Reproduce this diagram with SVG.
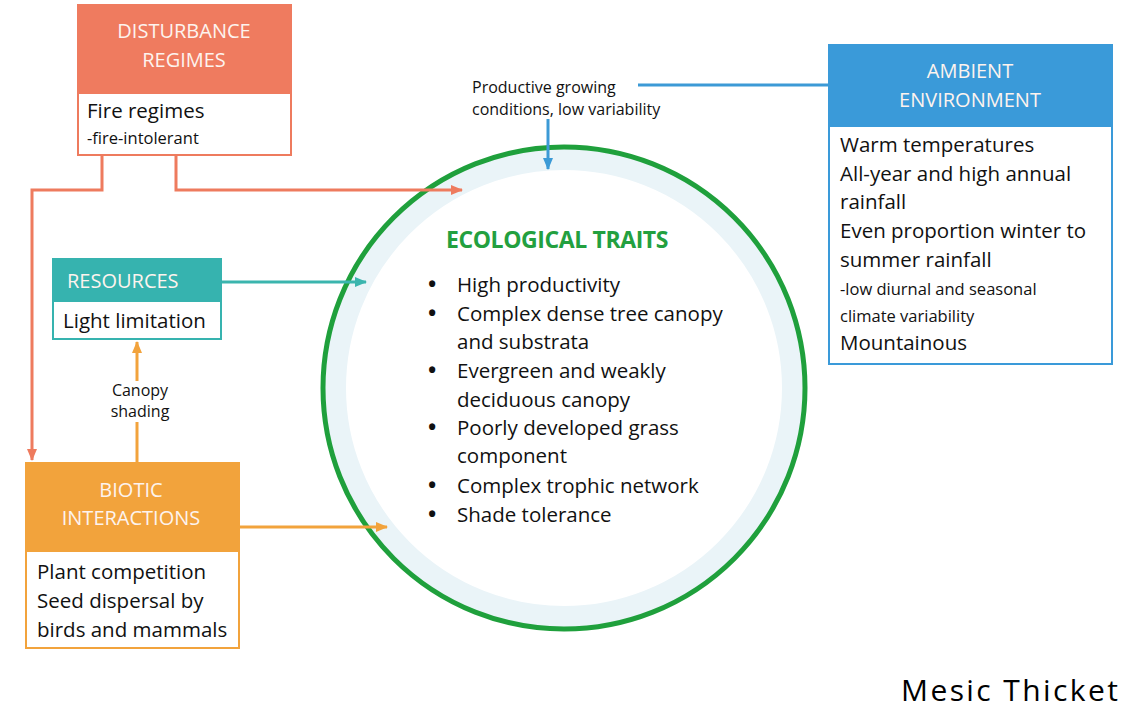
<svg xmlns="http://www.w3.org/2000/svg" width="1141" height="720" viewBox="0 0 1141 720">
<defs>
<style>
text{font-family:"Open Sans","Liberation Sans",sans-serif;fill:#111}
.hd{fill:#fdf3ee;font-size:20px;text-anchor:middle}
.bd{font-size:20.5px}
.sm{font-size:16.5px}
.lb{font-size:16px}
.li{font-size:20.5px}
.bu{font-size:22px;font-weight:bold}
.conn{fill:none;stroke-width:3}
</style>
<marker id="aR" markerWidth="12" markerHeight="10" refX="11" refY="5" orient="auto" markerUnits="userSpaceOnUse"><path d="M0,0 L12,5 L0,10 Z" fill="#ee7b5e"/></marker>
<marker id="aB" markerWidth="12" markerHeight="10" refX="11" refY="5" orient="auto" markerUnits="userSpaceOnUse"><path d="M0,0 L12,5 L0,10 Z" fill="#3c9ad6"/></marker>
<marker id="aT" markerWidth="12" markerHeight="10" refX="11" refY="5" orient="auto" markerUnits="userSpaceOnUse"><path d="M0,0 L12,5 L0,10 Z" fill="#3bb5ae"/></marker>
<marker id="aO" markerWidth="12" markerHeight="10" refX="11" refY="5" orient="auto" markerUnits="userSpaceOnUse"><path d="M0,0 L12,5 L0,10 Z" fill="#f2a33c"/></marker>
</defs>
<rect width="1141" height="720" fill="#fff"/>

<g id="ecological-traits">
<circle cx="564" cy="388" r="229" fill="none" stroke="#eaf4f8" stroke-width="22"/>
<circle cx="564" cy="388" r="241" fill="none" stroke="#1fa03c" stroke-width="5"/>
<text x="557" y="248" text-anchor="middle" style="font-size:23px;font-weight:bold;fill:#23a03f;letter-spacing:-0.4px">ECOLOGICAL TRAITS</text>
<text x="428" y="292" class="bu">•</text><text x="457" y="292" class="li">High productivity</text>
<text x="428" y="321" class="bu">•</text><text x="457" y="321" class="li">Complex dense tree canopy</text>
<text x="457" y="349" class="li">and substrata</text>
<text x="428" y="378" class="bu">•</text><text x="457" y="378" class="li">Evergreen and weakly</text>
<text x="457" y="407" class="li">deciduous canopy</text>
<text x="428" y="435" class="bu">•</text><text x="457" y="435" class="li">Poorly developed grass</text>
<text x="457" y="463" class="li">component</text>
<text x="428" y="493" class="bu">•</text><text x="457" y="493" class="li">Complex trophic network</text>
<text x="428" y="522" class="bu">•</text><text x="457" y="522" class="li">Shade tolerance</text>
</g>

<g id="connectors">
<path class="conn" stroke="#ee7b5e" d="M102,156 V190 H32 V460" marker-end="url(#aR)"/>
<path class="conn" stroke="#ee7b5e" d="M176,156 V190 H462" marker-end="url(#aR)"/>
<path class="conn" stroke="#3c9ad6" d="M828,85 H638"/>
<path class="conn" stroke="#3c9ad6" d="M548,119 V169" marker-end="url(#aB)"/>
<path class="conn" stroke="#3bb5ae" d="M222,282 H366" marker-end="url(#aT)"/>
<path class="conn" stroke="#f2a33c" d="M137,462 V422"/>
<path class="conn" stroke="#f2a33c" d="M137,381 V342" marker-end="url(#aO)"/>
<path class="conn" stroke="#f2a33c" d="M240,527 H387" marker-end="url(#aO)"/>
<text x="472" y="93" class="lb">Productive growing</text>
<text x="472" y="115" class="lb">conditions, low variability</text>
<text x="140" y="396" class="lb" text-anchor="middle">Canopy</text>
<text x="140" y="417" class="lb" text-anchor="middle">shading</text>
</g>

<g id="disturbance-regimes">
<rect x="78" y="5" width="213" height="150" fill="#fff" stroke="#ee7b5e" stroke-width="2"/>
<rect x="77" y="4" width="215" height="90" fill="#ef7b5f"/>
<text x="184" y="38" class="hd">DISTURBANCE</text>
<text x="184" y="67" class="hd">REGIMES</text>
<text x="87" y="118" class="bd">Fire regimes</text>
<text x="87" y="144" class="sm">-fire-intolerant</text>
</g>

<g id="ambient-environment">
<rect x="829" y="45" width="283" height="319" fill="#fff" stroke="#3a9ad9" stroke-width="2"/>
<rect x="828" y="44" width="285" height="83" fill="#3a9ad9"/>
<text x="970" y="78" class="hd">AMBIENT</text>
<text x="970" y="107" class="hd">ENVIRONMENT</text>
<text x="840" y="152" class="bd">Warm temperatures</text>
<text x="840" y="181" class="bd">All-year and high annual</text>
<text x="840" y="209" class="bd">rainfall</text>
<text x="840" y="238" class="bd">Even proportion winter to</text>
<text x="840" y="267" class="bd">summer rainfall</text>
<text x="840" y="295" class="sm">-low diurnal and seasonal</text>
<text x="840" y="322" class="sm">climate variability</text>
<text x="840" y="350" class="bd">Mountainous</text>
</g>

<g id="resources">
<rect x="53" y="259" width="168" height="80" fill="#fff" stroke="#36b3af" stroke-width="2"/>
<rect x="52" y="258" width="170" height="44" fill="#36b3af"/>
<text x="67" y="288" class="hd" style="text-anchor:start">RESOURCES</text>
<text x="63" y="328" class="bd">Light limitation</text>
</g>

<g id="biotic-interactions">
<rect x="26" y="463" width="213" height="185" fill="#fff" stroke="#f2a33c" stroke-width="2"/>
<rect x="25" y="462" width="215" height="90" fill="#f2a33c"/>
<text x="131" y="497" class="hd">BIOTIC</text>
<text x="131" y="525" class="hd">INTERACTIONS</text>
<text x="37" y="579" class="bd">Plant competition</text>
<text x="37" y="608" class="bd">Seed dispersal by</text>
<text x="37" y="637" class="bd">birds and mammals</text>
</g>

<text x="901" y="701" style="font-size:30px;letter-spacing:2.4px;fill:#000">Mesic Thicket</text>
</svg>
